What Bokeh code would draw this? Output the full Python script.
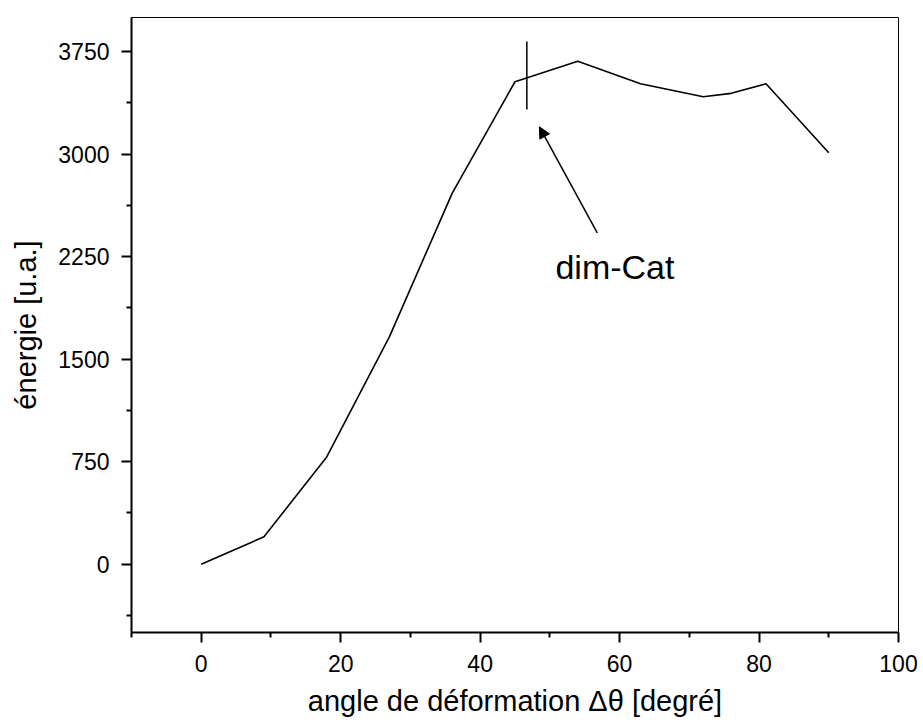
from bokeh.plotting import figure
from bokeh.models import (FixedTicker, Range1d, Arrow, NormalHead)
from bokeh.core.properties import value
from bokeh.embed import file_html
from bokeh.resources import INLINE

# ---- data ----
angle = [0, 9, 18, 27, 36, 45, 54, 63, 72, 76, 81, 90]
energie = [0, 200, 785, 1665, 2715, 3530, 3680, 3515, 3420, 3445, 3515, 3010]

x_major = [0, 20, 40, 60, 80, 100]
x_minor = [-10, 10, 30, 50, 70, 90]
y_major = [0, 750, 1500, 2250, 3000, 3750]
y_minor = [-375, 375, 1125, 1875, 2625, 3375]

marker_x = [46.7]
marker_y0 = [3326]
marker_y1 = [3824]

arrow_tail = (56.8, 2424)
arrow_head = (48.5, 3200)

label_text = ["dim-Cat"]
label_x = [50.8]
label_y = [2175]

FONT = "Liberation Sans"

p = figure(width=923, height=725, output_backend="svg", toolbar_location=None,
           x_range=Range1d(-10, 100), y_range=Range1d(-500, 4000),
           min_border_left=131, min_border_right=25, min_border_top=17,
           min_border_bottom=93)

p.background_fill_color = "white"
p.border_fill_color = "white"
p.outline_line_color = "black"
p.outline_line_width = 1
p.xgrid.visible = False
p.ygrid.visible = False

p.line(angle, energie, line_color="black", line_width=1.6)

p.segment(x0=marker_x, y0=marker_y0, x1=marker_x, y1=marker_y1,
          line_color="black", line_width=1.5)

p.add_layout(Arrow(end=NormalHead(size=11, fill_color="black", line_color="black"),
                   x_start=arrow_tail[0], y_start=arrow_tail[1],
                   x_end=arrow_head[0], y_end=arrow_head[1],
                   line_color="black", line_width=1.5))

p.text(x=label_x, y=label_y, text=label_text, text_font=value(FONT),
       text_font_size="34px", text_align="left", text_baseline="alphabetic",
       text_color="black")

# axes
p.xaxis.ticker = FixedTicker(ticks=x_major, minor_ticks=x_minor)
p.yaxis.ticker = FixedTicker(ticks=y_major, minor_ticks=y_minor)

p.xaxis.axis_label = "angle de déformation Δθ [degré]"
p.yaxis.axis_label = "énergie [u.a.]"

for ax in (p.xaxis, p.yaxis):
    ax.axis_line_width = 2
    ax.axis_line_color = "black"
    ax.major_tick_line_color = "black"
    ax.minor_tick_line_color = "black"
    ax.major_tick_line_width = 2
    ax.minor_tick_line_width = 2
    ax.major_tick_in = 0
    ax.minor_tick_in = 0
    ax.major_tick_out = 10
    ax.minor_tick_out = 5
    ax.major_label_text_font = FONT
    ax.major_label_text_font_size = "23px"
    ax.major_label_text_color = "black"
    ax.axis_label_text_font = FONT
    ax.axis_label_text_font_size = "29px"
    ax.axis_label_text_font_style = "normal"
    ax.axis_label_text_color = "black"

p.xaxis.major_label_standoff = 12
p.xaxis.axis_label_standoff = 10

p.yaxis.major_label_standoff = 12
p.yaxis.axis_label_standoff = 13
p.yaxis.major_label_orientation = "horizontal"

open("out.html", "w").write(file_html(p, INLINE))
